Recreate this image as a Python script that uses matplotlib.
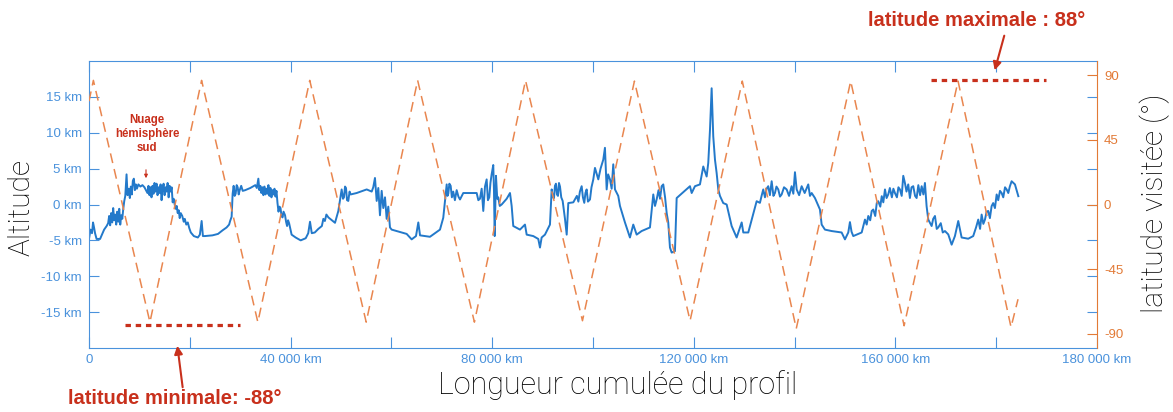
import matplotlib
matplotlib.use("Agg")
import matplotlib.pyplot as plt
from matplotlib.patches import FancyArrowPatch

# profil d'altitude le long de la trace, par tronçons (distance cumulée en km, altitude en km)
seg1_km = [0, 300, 600, 800, 1000, 1200, 1500, 2200, 3000, 3500,
           3800, 4000, 4200, 4400, 4600, 4800, 5000, 5200, 5400, 5600,
           5800, 6000, 6200, 6400, 6600, 6800, 7000, 7200, 7450, 7650,
           7900, 8100, 8300, 8500, 8700, 8900, 9100, 9300, 9500, 9800,
           10200, 10600, 11000, 11300, 11600, 11800, 12000, 12200, 12400, 12600,
           12800, 13000, 13200, 13400, 13600, 13800, 14000, 14200, 14400, 14600,
           14800, 15000, 15200, 15400, 15600, 15800, 16000, 16200, 16400, 16600,
           16800, 17000, 17200, 17400, 17600, 17800, 18000, 18200, 18500, 18800,
           19000, 19300, 19600, 19900, 20200, 20800, 21600, 22000, 22350, 22600,
           23000, 24500, 25600, 26500, 27300, 27800, 28000, 28300]
seg1_alt = [-4.8, -3.5, -4.0, -2.5, -3.2, -4.0, -4.8, -4.8, -3.5, -3.0,
            -2.6, -1.6, -2.9, -1.2, -2.5, -0.5, -2.2, -1.4, -2.8, -1.0,
            -2.4, -0.6, -2.8, -1.5, -2.0, -0.6, 0.5, 1.2, 4.2, 1.3,
            2.2, 0.9, 2.5, 1.4, 3.3, 3.6, 2.0, 2.8, 2.2, 2.8,
            2.5, 2.7, 2.4, 2.0, 1.6, 2.6, 1.3, 2.4, 1.0, 2.6,
            1.5, 3.0, 1.8, 2.9, 1.3, 2.4, 1.6, 2.8, 0.6, 2.2,
            2.9, 1.3, 2.4, 1.8, 3.0, 1.0, 2.6, 1.8, 2.4, 0.3,
            0.8, 0.0, -0.6, -0.2, -1.2, -0.8, -1.9, -1.2, -1.6, -2.4,
            -2.0, -2.8, -2.5, -3.3, -3.9, -4.4, -4.6, -4.2, -2.3, -4.4,
            -4.4, -4.3, -4.1, -3.6, -3.2, -2.8, -2.3, -1.7]

seg2_km = [28500, 28700, 28900, 29100, 29300, 29500, 29700, 29900, 30200, 30500,
           31000, 32000, 33000, 33300, 33600, 33800, 34000, 34200, 34400, 34600,
           34800, 35000, 35200, 35400, 35600, 35800, 36000, 36200, 36400, 36600,
           36800, 37000, 37200, 37400, 37600, 37800, 38000, 38200, 38400, 38600,
           38900, 39100, 39300, 39500, 39700, 40200, 41000, 42000, 43000, 43500,
           43850, 44200, 44800, 45500, 46200, 46500, 46800, 47100, 47500]
seg2_alt = [1.5, 2.6, 1.2, 1.5, 2.7, 2.4, 1.4, 2.0, 2.6, 1.9,
            2.0, 2.3, 2.7, 2.3, 3.6, 2.0, 2.6, 1.6, 2.4, 1.3,
            2.5, 1.4, 2.2, 1.5, 2.7, 1.2, 2.3, 1.0, 2.0, 1.4,
            2.2, 1.1, 1.9, 0.2, -1.0, -0.3, -0.5, -1.6, -1.8, -1.0,
            -1.5, -2.4, -3.0, -2.2, -2.6, -4.2, -4.6, -5.0, -4.7, -4.0,
            -2.4, -4.0, -3.9, -3.4, -3.0, -2.0, -2.3, -1.4, -1.8]

seg3_km = [48810, 49470, 50130, 50400, 50590, 50800, 50990, 51200, 51450, 51700,
           51920, 53110, 55100, 56090, 56400, 56740, 57080, 57400, 57730, 58070,
           58390, 58730, 59060, 59380, 59720, 60050, 61040, 63030, 64020, 64880,
           65340, 65680, 67650, 69640, 70290, 70970, 71130, 71290, 71500, 71760,
           72000, 72270, 72600, 72950, 73300, 73610, 74260, 76920, 77250, 77570,
           77910, 78230, 78570, 78900, 79150, 79420, 79650, 79890, 80210, 80350,
           80490, 80750, 81000, 81200, 81500, 81880, 82870, 83530, 83860, 84180,
           85510, 86500, 86840, 88150, 89140, 89480, 89810, 90470, 91460, 91800,
           92030, 92260, 92450, 92650, 92850, 93050, 93250, 93450, 93700, 93980,
           94440, 94780, 95100, 96090]
seg3_alt = [-2.55, -0.9, 2.1, 0.8, 1.0, 2.5, 2.3, 0.6, 0.5, 1.8,
            1.4, 1.6, 2.1, 1.8, 2.4, 3.7, 0.5, 2.3, -1.5, 1.9,
            -0.5, 1.0, -2.0, -0.3, -3.2, -3.5, -3.7, -4.1, -4.86, -4.4,
            -2.5, -4.3, -4.5, -3.5, -1.85, 2.8, 1.2, 1.5, 2.9, 2.6,
            1.0, 1.8, 0.6, 2.0, 1.1, 0.7, 1.6, 1.6, 0.6, 0.8,
            2.2, -0.9, 2.5, 3.5, 0.6, 1.0, 3.0, 4.2, 5.5, 2.0,
            -4.4, 4.0, 0.8, 1.0, -0.2, 0.0, 0.8, 1.6, -0.2, -3.0,
            -3.5, -2.8, -4.2, -4.4, -4.8, -6.0, -4.6, -4.2, -2.8, 2.1,
            1.0, 0.9, 2.6, 2.9, 1.4, 1.2, 3.0, 2.5, 1.0, 0.5,
            -2.0, -4.2, 0.2, 0.3]

seg4_km = [96800, 97100, 97400, 97750, 98000, 98270, 98500, 98740, 99000, 99400,
           99700, 100060, 100390, 101050, 101500, 102040, 102370, 102710, 103000, 103370,
           103700, 104020, 104360, 105010, 105350, 106340, 107330, 107990, 108660, 109650,
           111300, 111960, 112300, 112630, 113000, 113300, 113620, 113940, 114300, 114620,
           114930, 115270, 115610, 116260, 116600, 119240, 119580, 120230, 121220, 121880,
           122550, 122870, 123210, 123540, 123860, 124200, 124530, 124860, 125190, 125840,
           126520, 127510, 128500, 129500, 129820, 130810, 132130, 132470, 133120, 133450,
           133780, 134120, 134450, 134770, 135100, 135450, 135800, 136100, 136400, 136760,
           137100, 137430, 137900, 138420, 138900, 139410, 139750, 140070, 140410, 140900,
           141400, 142000, 142710, 143050, 143390, 144040, 145030]
seg4_alt = [1.2, 0.4, 1.8, 2.55, 1.0, 0.23, 1.6, 2.1, 0.4, 0.7,
            2.4, 3.5, 5.1, 3.5, 5.0, 6.25, 7.9, 2.1, 4.2, 3.5,
            2.2, 5.6, 2.1, 1.2, -0.2, -2.5, -4.6, -2.8, -4.2, -3.7,
            -3.2, 1.4, -0.2, 0.7, 2.0, 0.8, 2.55, 2.8, 1.0, -1.2,
            -2.5, -6.0, -6.7, -6.5, 0.9, 2.55, 1.6, 2.55, 2.8, 5.3,
            3.9, 5.8, 10.4, 16.2, 9.5, 6.25, 4.4, 2.1, 1.2, 0.2,
            0.0, -3.0, -4.6, -2.5, -3.9, -3.9, -0.46, 0.46, 0.23, 1.2,
            2.1, 1.0, 2.2, 2.55, 1.3, 3.24, 1.2, 1.6, 2.5, 2.1,
            1.1, 1.4, 2.4, 2.1, 1.2, 2.55, 1.5, 4.5, 2.1, 1.3,
            2.55, 1.6, 2.8, 1.2, 1.6, 0.9, -0.7]

seg5_km = [145370, 146020, 147350, 149330, 149990, 150650, 150980, 151300, 151640, 153310,
           153960, 154300, 154620, 155000, 155300, 155610, 156000, 156300, 156600, 157000,
           157290, 157600, 157930, 158250, 158580, 158900, 159300, 159600, 159910, 160300,
           160600, 160900, 161250, 161560, 161890, 162200, 162550, 162880, 163200, 163540,
           163900, 164210, 164550, 164900, 165210, 165550, 165860, 166190, 166520, 167190,
           167500, 167850, 168200, 168500, 169000, 169400, 169830, 170490, 171160, 171810,
           172470, 173140, 174450, 175440, 176000, 176440, 176800, 177110, 177450, 177770,
           178100, 178420, 178750, 179090, 179400, 179750, 180090, 180400, 180750, 181080,
           181400, 181750, 182070, 182400, 182700, 183060, 183720, 184390]
seg5_alt = [-2.8, -3.5, -3.7, -3.9, -4.86, -3.9, -2.45, -3.8, -4.4, -3.9,
            -2.1, -2.8, -1.6, -2.2, -0.9, -0.7, -1.6, 0.2, 0.46, -0.3,
            1.16, 0.3, 2.1, 0.9, 1.4, 2.3, 1.0, 2.2, 1.6, 1.0,
            2.4, 2.1, 1.2, 4.0, 3.0, 1.8, 2.8, 0.9, 2.4, 2.55,
            1.2, 0.9, 2.7, 1.3, 2.55, 1.4, 3.0, -0.23, -2.1, -3.0,
            -2.0, -1.6, -3.4, -3.2, -2.6, -3.9, -3.7, -4.17, -5.6, -4.4,
            -2.3, -4.6, -4.77, -4.4, -3.2, -2.1, -3.4, -1.4, -2.7, -2.1,
            -1.0, -0.9, -1.9, -0.23, 0.2, -0.5, 1.4, 0.6, 1.9, 1.6,
            1.0, 2.4, 2.1, 1.6, 2.5, 3.24, 2.8, 1.16]

dist_km = seg1_km + seg2_km + seg3_km + seg4_km + seg5_km
alt_km = seg1_alt + seg2_alt + seg3_alt + seg4_alt + seg5_alt

# latitude visitée : sommets du zigzag (km, degrés)
lat_dist = [0, 870, 12090, 22340, 33500, 43800, 55000, 65210, 76470, 86610,
            97910, 108220, 119260, 129620, 140330, 151130, 161730, 172430, 182940, 184330]
lat_deg = [72, 86.5, -82, 86.5, -82, 86.5, -82, 86.5, -82, 86.5,
           -81, 86, -81, 86, -86.5, 86, -84.5, 86, -85.5, -66]

# repères rouges (latitudes extrêmes)
lat_min_x = [7140, 29930]
lat_min_y = [-83.8, -83.8]
lat_max_x = [167080, 189880]
lat_max_y = [86.6, 86.6]

x_ticks = [0, 20000, 40000, 60000, 80000, 100000, 120000, 140000, 160000, 180000, 200000]
x_labels = ['0', '', '40 000 km', '', '80 000 km', '', '120 000 km', '', '160 000 km', '', '180 000 km']
alt_ticks = [-15, -10, -5, 0, 5, 10, 15]
lat_ticks = [-90, -45, 0, 45, 90]

plt.rcParams['font.family'] = ['Liberation Sans', 'DejaVu Sans']
plt.rcParams['axes.unicode_minus'] = False

BLEU = '#2379ca'
BLEU_AXE = '#4a92dc'
ORANGE = '#e9864f'
ORANGE_AXE = '#e27a36'
ROUGE = '#c8301c'
TITRE = dict(fontsize=21.5, family=['Roboto', 'DejaVu Sans'], weight='light')

W, H = 1173, 412
fig = plt.figure(figsize=(W / 100, H / 100), dpi=100)
ax = fig.add_axes([89 / W, 1 - 348 / H, (1097 - 89) / W, (348 - 61) / H])
ax2 = ax.twinx()

ax.plot(dist_km, alt_km, color=BLEU, lw=1.4)
ax2.plot(lat_dist, lat_deg, color=ORANGE, lw=1.1, dashes=(6.5, 4))
ax2.plot(lat_min_x, lat_min_y, color=ROUGE, lw=2.3, dashes=(1.7, 1.5))
ax2.plot(lat_max_x, lat_max_y, color=ROUGE, lw=2.3, dashes=(1.7, 1.5))

ax.set_xlim(0, 200000)
ax.set_xticks(x_ticks)
ax.set_xticklabels(x_labels)
ax.set_ylim(-20, 20)
ax.set_yticks(alt_ticks)
ax.set_yticklabels([f'{v} km' for v in alt_ticks])
ax2.set_ylim(-100, 100)
ax2.set_yticks(lat_ticks)
ax2.set_yticklabels([str(v) for v in lat_ticks])

ax.tick_params(axis='x', direction='in', length=8, top=True, color=BLEU_AXE,
               labelcolor=BLEU_AXE, labelsize=9.5, pad=4)
ax.tick_params(axis='y', direction='in', length=7, right=True, color=BLEU_AXE,
               labelcolor=BLEU_AXE, labelsize=9.5, pad=5)
ax2.tick_params(axis='y', direction='in', length=7, color=ORANGE_AXE,
                labelcolor=ORANGE_AXE, labelsize=9.5, pad=5)

for s in ['left', 'top', 'bottom']:
    ax.spines[s].set_color(BLEU_AXE)
    ax2.spines[s].set_visible(False)
ax.spines['right'].set_visible(False)
ax2.spines['right'].set_color(ORANGE_AXE)

# titres des axes
fig.text(22 / W, 1 - 208 / H, 'Altitude', rotation=90, ha='center', va='center', **TITRE)
fig.text(1155 / W, 1 - 203 / H, 'latitude visitée (°)', rotation=90, ha='center', va='center', **TITRE)
fig.text(618 / W, 1 - 385 / H, 'Longueur cumulée du profil', ha='center', va='center',
         fontsize=22, family=['Roboto', 'DejaVu Sans'], weight='light')

# annotations
fig.text(977 / W, 1 - 20 / H, 'latitude maximale : 88°', ha='center', va='center',
         fontsize=14.5, weight='bold', color=ROUGE)
fig.text(175 / W, 1 - 398 / H, 'latitude minimale: -88°', ha='center', va='center',
         fontsize=14.5, weight='bold', color=ROUGE)
fig.text(147 / W, 1 - 134 / H, 'Nuage\nhémisphère\nsud', ha='center', va='center',
         fontsize=8.3, weight='bold', color=ROUGE, linespacing=1.2)

fleche = dict(arrowstyle='-|>', color=ROUGE, lw=1.5, mutation_scale=12, transform=fig.transFigure)
fig.add_artist(FancyArrowPatch((1005 / W, 1 - 33 / H), (994 / W, 1 - 73 / H), **fleche))
fig.add_artist(FancyArrowPatch((183 / W, 1 - 390 / H), (177 / W, 1 - 343 / H), **fleche))
fig.add_artist(FancyArrowPatch((146 / W, 1 - 167 / H), (146 / W, 1 - 181 / H), arrowstyle='-|>',
                               color=ROUGE, lw=0.8, mutation_scale=5, transform=fig.transFigure))

fig.savefig('out.png', dpi=100)
